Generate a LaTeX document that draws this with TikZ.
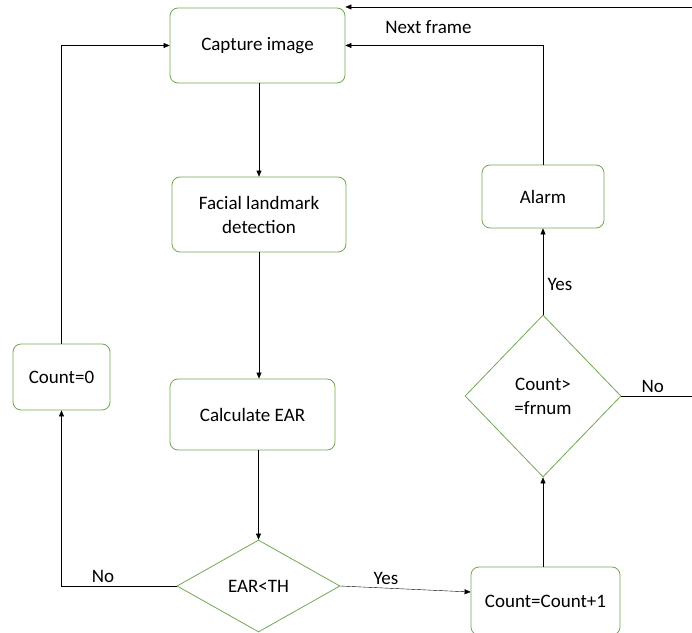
\documentclass[tikz,border=0pt]{standalone}
\usepackage{fontspec}
\setmainfont{Carlito}
\usetikzlibrary{shapes.geometric,arrows.meta}
\definecolor{boxgreen}{RGB}{112,168,80}
\tikzset{>={Triangle[length=6pt,width=5pt]}}
\tikzset{%
    stepbox/.style={%
        draw=boxgreen, thick, rounded corners=8pt, align=center,
        font=\fontsize{19}{24}\selectfont
    },
    decide/.style={%
        draw=boxgreen, thick, diamond, inner sep=0pt, align=center,
        font=\fontsize{19}{24}\selectfont
    },
    lbl/.style={font=\fontsize{19}{24}\selectfont}
}

\begin{document}
\begin{tikzpicture}[x=1pt,y=1pt]
\clip (0,0) rectangle (692,632);

\node[stepbox,minimum width=175pt,minimum height=75pt] (cap) at (257.5,586.5) {Capture image};
\node[stepbox,minimum width=174pt,minimum height=75pt] (fld) at (259,417.5) {Facial landmark\\detection};
\node[stepbox,minimum width=165pt,minimum height=71pt] (ear) at (252.5,217.5) {Calculate EAR};
\node[decide,minimum width=163pt,minimum height=92pt] (earth) at (258.5,46) {EAR<TH};
\node[stepbox,minimum width=149pt,minimum height=68pt] (cnt1) at (545.5,31) {Count=Count+1};
\node[decide,minimum width=156pt,minimum height=162pt] (frn) at (543,236) {Count>\\=frnum};
\node[stepbox,minimum width=122pt,minimum height=63pt] (alarm) at (543,435.5) {Alarm};
\node[stepbox,minimum width=97pt,minimum height=66pt] (cnt0) at (61.5,255) {Count=0};

\coordinate (noend) at (692,236);
\coordinate (loopin) at (692,625);

\draw[->] (fld.north |- cap.south) -- (fld.north);
\draw[->] (fld.south) -- (fld.south |- ear.north);
\draw[->] (earth.north |- ear.south) -- (earth.north);
\draw[->] (earth.west) -| (cnt0.south) node[lbl,pos=0.32,above] {No};
\draw[->] (earth.east) -- ([yshift=9pt]cnt1.west) node[lbl,pos=0.35,above] {Yes};
\draw[->] (frn.north) -- (alarm.south) node[lbl,pos=0.35,right,xshift=1pt] {Yes};
\draw[->] (frn.south |- cnt1.north) -- (frn.south);
\draw[->] (alarm.north) |- (cap.east) node[lbl,pos=0.79,above,yshift=8pt] {Next frame};
\draw (frn.east) -- (noend) node[lbl,midway,above,xshift=-4pt] {No};
\draw[->] (loopin) -- (loopin -| cap.east);
\draw[->] (cnt0.north) |- (cap.west);
\end{tikzpicture}
\end{document}
